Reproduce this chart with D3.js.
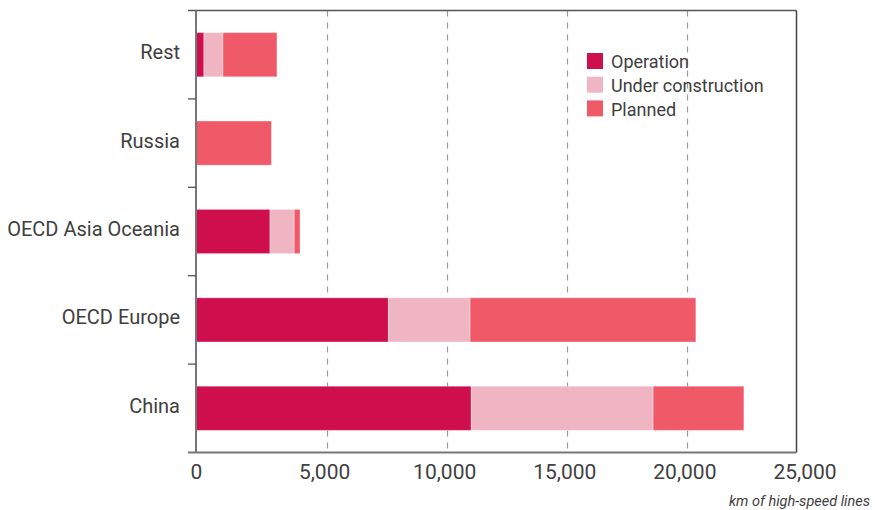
<!DOCTYPE html>
<html>
<head>
<meta charset="utf-8">
<script src="https://cdn.jsdelivr.net/npm/d3@7"></script>
<style>
  html, body { margin: 0; padding: 0; background: #fff; }
  svg { display: block; }
  text { font-family: Roboto, "Liberation Sans", Arial, sans-serif; fill: #404040; }
</style>
</head>
<body>
<svg id="chart" width="875" height="510"></svg>
<script>
// ---- data ----
const categories = ["Rest", "Russia", "OECD Asia Oceania", "OECD Europe", "China"];
const seriesNames = ["Operation", "Under construction", "Planned"];
const operation = [330, 0, 3080, 8010, 11460];
const underConstruction = [790, 0, 1010, 3400, 7570];
const planned = [2250, 3140, 240, 9400, 3780];
const tickValues = [0, 5000, 10000, 15000, 20000, 25000];
const tickLabels = ["0", "5,000", "10,000", "15,000", "20,000", "25,000"];
const colors = ["#cf0f4d", "#f0b5c3", "#f05a68"];
const axisTitle = "km of high-speed lines";

// ---- layout ----
const mLeft = 196, mRight = 796.5, mTop = 10.5, mBottom = 452.5;
const svg = d3.select("#chart");

const x = d3.scaleLinear().domain([0, 25000]).range([mLeft, mRight]);
const xGrid = d3.scaleLinear().domain([0, 25000]).range([mLeft + 10.5, mRight + 10.5]);
const y = d3.scaleBand().domain(categories).range([mTop, mBottom])
  .paddingInner(0.5).paddingOuter(0.25);

// gridlines
svg.append("g").selectAll("line")
  .data(tickValues.filter(v => v > 0 && v < 25000))
  .join("line")
  .attr("x1", d => Math.round(xGrid(d)) + 0.5)
  .attr("x2", d => Math.round(xGrid(d)) + 0.5)
  .attr("y1", mTop).attr("y2", mBottom)
  .attr("stroke", "#9a9a9a").attr("stroke-width", 1.2)
  .attr("stroke-dasharray", "6,6");

// stacked data
const table = categories.map((c, i) => ({
  cat: c,
  "Operation": operation[i],
  "Under construction": underConstruction[i],
  "Planned": planned[i]
}));
const stack = d3.stack().keys(seriesNames)(table);

svg.append("g").selectAll("g")
  .data(stack)
  .join("g")
  .attr("fill", (d, i) => colors[i])
  .selectAll("rect")
  .data(d => d.filter(e => e[1] - e[0] > 0))
  .join("rect")
  .attr("x", d => x(d[0]))
  .attr("width", d => x(d[1]) - x(d[0]))
  .attr("y", d => y(d.data.cat))
  .attr("height", y.bandwidth())
  .attr("stroke", "#ffffff").attr("stroke-opacity", 0.35).attr("stroke-width", 1);

// frame: top and right
svg.append("line").attr("x1", mLeft - 8).attr("x2", mRight).attr("y1", mTop).attr("y2", mTop)
  .attr("stroke", "#555").attr("stroke-width", 1.5);
svg.append("line").attr("x1", mRight).attr("x2", mRight).attr("y1", mTop).attr("y2", mBottom)
  .attr("stroke", "#444").attr("stroke-width", 1.5);
// bottom axis line
svg.append("line").attr("x1", mLeft - 8).attr("x2", mRight).attr("y1", mBottom).attr("y2", mBottom)
  .attr("stroke", "#777").attr("stroke-width", 2);
// left axis line
svg.append("line").attr("x1", mLeft).attr("x2", mLeft).attr("y1", mTop).attr("y2", mBottom)
  .attr("stroke", "#777").attr("stroke-width", 2);

// category boundary ticks
const step = y.step();
const boundaries = categories.slice(1).map(c => y(c) - step * 0.25);
svg.append("g").selectAll("line")
  .data(boundaries)
  .join("line")
  .attr("x1", mLeft - 8).attr("x2", mLeft)
  .attr("y1", d => d).attr("y2", d => d)
  .attr("stroke", "#555").attr("stroke-width", 1.3);

// category labels
svg.append("g").selectAll("text")
  .data(categories)
  .join("text")
  .attr("x", 180)
  .attr("y", d => y(d) + y.bandwidth() / 2 + 4.5)
  .attr("text-anchor", "end")
  .attr("font-size", 20)
  .text(d => d);

// x tick labels
svg.append("g").selectAll("text")
  .data(tickValues)
  .join("text")
  .attr("x", d => d === 0 ? x(0) + 0.5 : xGrid(d) - 2)
  .attr("y", 479)
  .attr("text-anchor", "middle")
  .attr("font-size", 21)
  .text((d, i) => tickLabels[i]);

// axis title
svg.append("text")
  .attr("x", 870).attr("y", 506)
  .attr("text-anchor", "end")
  .attr("font-size", 14.5)
  .attr("font-style", "italic")
  .text(axisTitle);

// legend
const legend = svg.append("g").attr("transform", "translate(587,53)");
const li = legend.selectAll("g").data(seriesNames).join("g")
  .attr("transform", (d, i) => `translate(0,${i * 23.7})`);
li.append("rect").attr("width", 16).attr("height", 16).attr("fill", (d, i) => colors[i]);
li.append("text").attr("x", 24).attr("y", 15.3)
  .attr("font-size", 18).text(d => d);
</script>
</body>
</html>
